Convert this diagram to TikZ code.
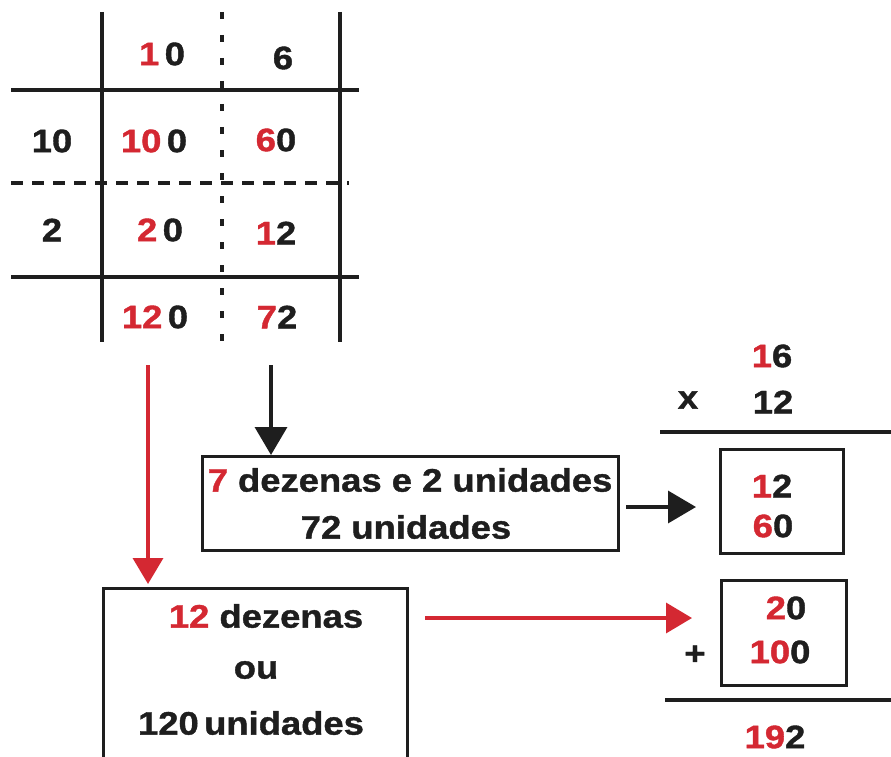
\documentclass[tikz,border=0pt]{standalone}
\usepackage{fontspec}
\setmainfont{Liberation Sans}[FakeStretch=1.12, BoldFeatures={FakeBold=1.2}]
\usetikzlibrary{arrows.meta}
\definecolor{myred}{RGB}{212,40,50}
\definecolor{myblack}{RGB}{30,30,30}
\newcommand{\R}[1]{\textcolor{myred}{#1}}
\tikzset{
  txt/.style={inner sep=0pt, font=\fontsize{32.5}{38}\selectfont\bfseries, text=myblack},
  gridline/.style={line width=3.5pt, draw=myblack},
  dotline/.style={line width=3.5pt, draw=myblack, dash pattern=on 7pt off 16pt},
  dashline/.style={line width=3.5pt, draw=myblack, dash pattern=on 12pt off 9pt},
  boxline/.style={line width=3pt, draw=myblack},
  blackarrow/.style={line width=3.5pt, draw=myblack, -{Triangle[width=32pt,length=28pt]}},
  redarrow/.style={line width=3.5pt, draw=myred, -{Triangle[width=30pt,length=26pt]}},
}
\begin{document}
\begin{tikzpicture}[x=1pt,y=-1pt]
\useasboundingbox (0,0) rectangle (891,757);
% grid
\draw[gridline] (102,12) -- (102,342);
\draw[gridline] (340,12) -- (340,342);
\draw[dotline] (222,12) -- (222,342);
\draw[gridline] (11,90) -- (359,90);
\draw[gridline] (11,277) -- (359,277);
\draw[dashline] (11,183) -- (349,183);
% grid texts
\node[txt] (c10) at (162,54) {\R{1}\,0};
\node[txt] (c6) at (283,58) {6};
\node[txt] (r10) at (52,141) {10};
\node[txt] (g100) at (154,141) {\R{10}\,0};
\node[txt] (g60) at (276,140) {\R{6}0};
\node[txt] (r2) at (52,230) {2};
\node[txt] (g20) at (160,230) {\R{2}\,0};
\node[txt] (g12) at (276,233) {\R{1}2};
\node[txt] (s120) at (155,317) {\R{12}\,0};
\node[txt] (s72) at (277,317) {\R{7}2};
% box 1
\node[boxline, draw, minimum width=416pt, minimum height=94pt, inner sep=0pt] (box1) at (410,503) {};
\node[txt] (l1) at (410,480) {\R{7} dezenas e 2 unidades};
\node[txt] (l2) at (406,527) {72 unidades};
% box 2 (open at bottom)
\coordinate (b2tl) at (103,588);
\coordinate (b2tr) at (407,588);
\draw[boxline] (103,757) -- (b2tl) -- (b2tr) -- (407,757);
\node[txt] (m1) at (266,616) {\R{12} dezenas};
\node[txt] (m2) at (256,670) {ou};
\node[txt] (m3) at (251,723) {120\,unidades};
% arrows
\coordinate (ba0) at (271,365);
\coordinate (ba1) at (271,455);
\draw[blackarrow] (ba0) -- (ba1);
\coordinate (ra0) at (148,365);
\coordinate (ra1) at (148,584);
\draw[redarrow] (ra0) -- (ra1);
% right column
\node[txt] (t16) at (772,356) {\R{1}6};
\node[txt] (tx) at (688,400) {x};
\node[txt] (t12) at (773,402) {12};
\coordinate (h1a) at (660,432);
\coordinate (h1b) at (891,432);
\draw[gridline] (h1a) -- (h1b);
\node[boxline, draw, minimum width=123pt, minimum height=104pt, inner sep=0pt] (box3) at (781.5,501) {};
\node[txt] (p12) at (772,486) {\R{1}2};
\node[txt] (p60) at (773,526) {\R{6}0};
\node[boxline, draw, minimum width=125pt, minimum height=105pt, inner sep=0pt] (box4) at (783.5,632.5) {};
\node[txt] (p20) at (786,608) {\R{2}0};
\node[txt] (p100) at (780,652) {\R{10}0};
\node[txt] (plus) at (695,655) {+};
\coordinate (h2a) at (665,700);
\coordinate (h2b) at (891,700);
\draw[gridline] (h2a) -- (h2b);
\node[txt] (res) at (775,737) {\R{19}2};
% horizontal arrows
\coordinate (bh0) at (626,507);
\coordinate (bh1) at (696,507);
\draw[blackarrow] (bh0) -- (bh1);
\coordinate (rh0) at (425,618);
\coordinate (rh1) at (692,618);
\draw[redarrow] (rh0) -- (rh1);
\end{tikzpicture}
\end{document}
